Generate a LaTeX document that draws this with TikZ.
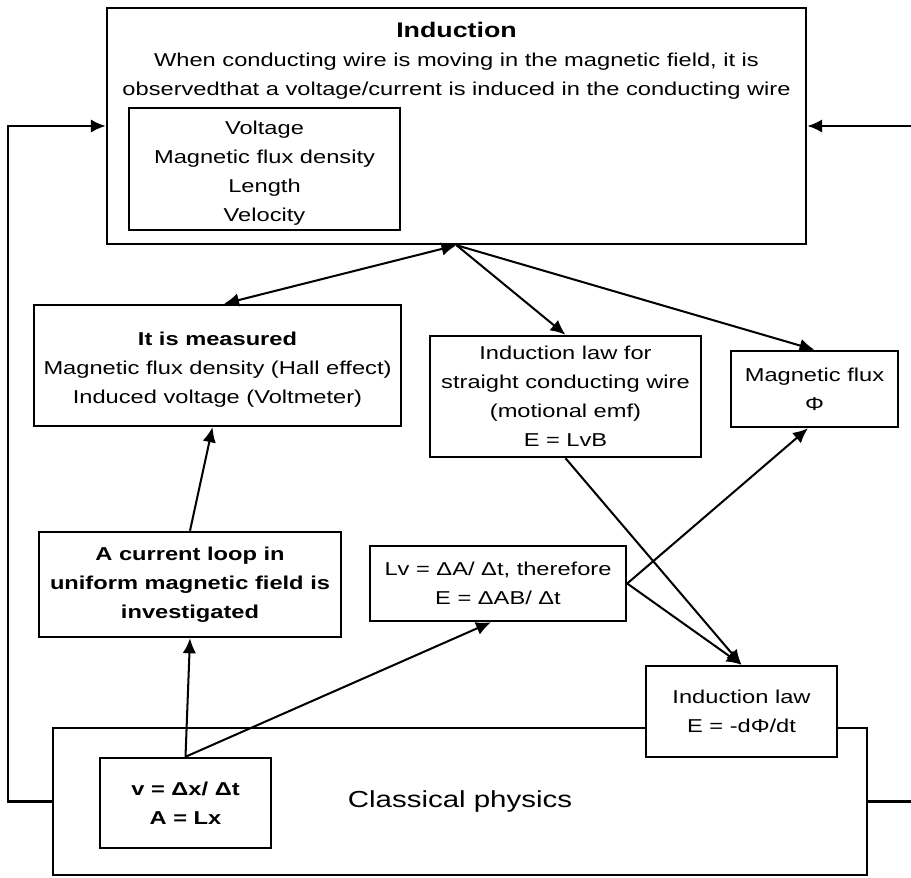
\documentclass[tikz,border=0pt]{standalone}
\usepackage{fontspec}
\setmainfont{Liberation Sans}[FakeStretch=1.27]
\usetikzlibrary{arrows.meta,positioning,calc}
\newcommand{\firstline}{\rule{0pt}{0.45cm}}

\begin{document}
\begin{tikzpicture}[
		>={Latex[length=3mm,width=2.7mm]},
		box/.style={draw,line width=1.4pt,align=center,inner sep=0pt,fill=white,font=\fontsize{10.6}{16.5}\selectfont},
		link/.style={line width=1.15pt,->},
		feed/.style={line width=1.4pt}
	]
		\useasboundingbox (0,0) rectangle (18.22,17.54);
		\coordinate (lft) at (0.16,0);
		\coordinate (rgt) at (18.22,0);
		\node[box,minimum width=13.98cm,minimum height=4.72cm] (ind) at (9.13,15.02) {};
		\node[align=center,inner sep=0pt,anchor=north,font=\fontsize{10.6}{16.5}\selectfont] (indtxt) at ($(ind.north)+(0,-0.3)$) {{\fontsize{12}{16.5}\selectfont\bfseries Induction}\\When conducting wire is moving in the magnetic field, it is\\observedthat a voltage/current is induced in the conducting wire};
		\node[box,minimum width=5.42cm,minimum height=2.44cm] (vars) at (5.29,14.16) {\firstline Voltage\\Magnetic flux density\\Length\\Velocity};
		\node[box,minimum width=7.34cm,minimum height=2.42cm] (meas) at (4.35,10.23) {\firstline\bfseries It is measured\\Magnetic flux density (Hall effect)\\Induced voltage (Voltmeter)};
		\node[box,minimum width=5.42cm,minimum height=2.42cm] (straight) at (11.31,9.61) {Induction law for\\straight conducting wire\\(motional emf)\\E = LvB};
		\node[box,minimum width=3.34cm,minimum height=1.52cm] (flux) at (16.29,9.76) {Magnetic flux\\Φ};
		\node[box,minimum width=6.04cm,minimum height=2.10cm,font=\fontsize{10.6}{16.5}\selectfont\bfseries] (loop) at (3.80,5.85) {A current loop in\\uniform magnetic field is\\investigated};
		\node[box,minimum width=5.12cm,minimum height=1.50cm] (lv) at (9.96,5.87) {Lv = ΔA/ Δt, therefore\\E = ΔAB/ Δt};
		\node[box,minimum width=16.28cm,minimum height=2.94cm,font=\fontsize{13.2}{16}\selectfont] (classical) at (9.20,1.51) {Classical physics};
		\node[box,minimum width=3.82cm,minimum height=1.82cm] (law) at (14.83,3.31) {Induction law\\E = -dΦ/dt};
		\node[box,minimum width=3.42cm,minimum height=1.80cm,font=\fontsize{10.6}{16.5}\selectfont\bfseries] (vbox) at (3.71,1.48) {v = Δx/ Δt\\A = Lx};

		\draw[link,<->] ([xshift=0.13cm]meas.north) -- (ind.south);
		\draw[link] (ind.south) -- (straight.north);
		\draw[link] (ind.south) -- (flux.north);
		\draw[link] (loop.north) -- ([xshift=-0.1cm]meas.south);
		\draw[link] (vbox.north) -- (loop.south);
		\draw[link] (vbox.north) -- ([xshift=-0.14cm]lv.south);
		\draw[link] (straight.south) -- (law.north);
		\draw[link] (lv.east) -- ([xshift=-0.13cm]flux.south);
		\draw[link] (lv.east) -- (law.north);
		\draw[feed,->] (classical.west) -| (lft |- ind.west) -- (ind.west);
		\draw[feed,->] (rgt |- ind.east) -- (ind.east);
		\draw[feed] (classical.east) -- (classical.east -| rgt);
	\end{tikzpicture}
\end{document}
